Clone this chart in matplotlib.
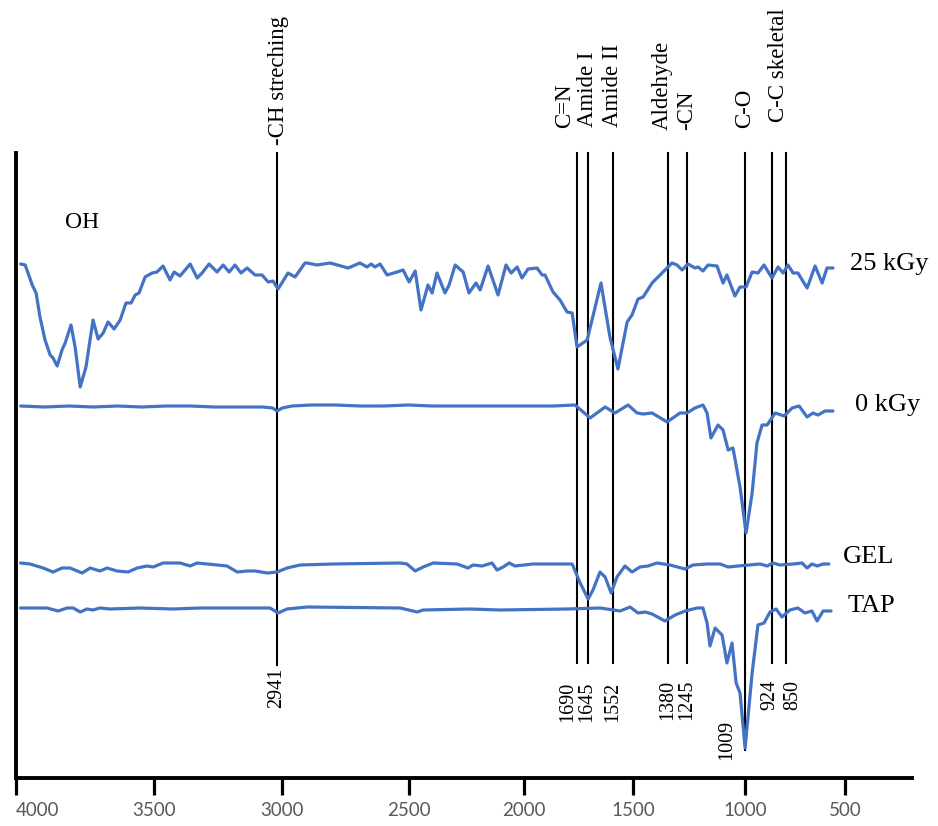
import matplotlib
matplotlib.use("Agg")
import matplotlib.pyplot as plt

# ---------------- data ----------------
wn_25 = [4000, 3981, 3952, 3936, 3920, 3899, 3878, 3866, 3849, 3829, 3816, 3792, 3775, 3754, 3730, 3701,
         3680, 3659, 3639, 3614, 3589, 3565, 3544, 3527, 3511, 3486, 3457, 3437, 3412, 3383, 3366, 3342,
         3300, 3271, 3251, 3222, 3189, 3164, 3139, 3115, 3090, 3065, 3032, 3003, 2978, 2958, 2937, 2896,
         2867, 2826, 2817, 2776, 2722, 2648, 2599, 2570, 2553, 2537, 2516, 2487, 2446, 2421, 2396, 2371,
         2347, 2318, 2301, 2281, 2248, 2231, 2206, 2173, 2149, 2120, 2103, 2070, 2029, 1996, 1975, 1950,
         1930, 1905, 1868, 1847, 1835, 1802, 1773, 1744, 1723, 1703, 1661, 1604, 1567, 1534, 1496, 1476,
         1451, 1430, 1393, 1360, 1311, 1290, 1269, 1245, 1216, 1203, 1183, 1162, 1125, 1100, 1084, 1051,
         1030, 1005, 980, 956, 931, 898, 873, 852, 832, 811, 791, 753, 720, 691, 671, 646]
t_25 = [514, 513, 493, 485, 461, 438, 423, 420, 412, 428, 435, 453, 431, 391, 411, 458,
        439, 445, 456, 449, 458, 475, 475, 483, 485, 501, 505, 506, 512, 498, 506, 502,
        514, 500, 505, 514, 506, 513, 506, 513, 505, 510, 503, 503, 496, 497, 489, 505,
        501, 515, 515, 513, 515, 510, 515, 511, 514, 511, 514, 503, 506, 508, 496, 507,
        468, 493, 485, 505, 485, 493, 513, 506, 485, 495, 488, 512, 483, 513, 505, 511,
        500, 509, 510, 503, 503, 486, 478, 466, 465, 431, 438, 495, 441, 409, 456, 463,
        479, 481, 495, 503, 515, 513, 508, 514, 510, 511, 507, 513, 512, 495, 503, 482,
        491, 491, 506, 505, 513, 500, 511, 505, 513, 505, 505, 490, 512, 495, 510, 510]

wn_0 = [4000, 3900, 3800, 3700, 3600, 3500, 3400, 3300, 3200, 3100, 3000, 2960, 2941, 2920, 2880, 2800,
        2700, 2600, 2500, 2400, 2300, 2200, 2100, 2000, 1900, 1800, 1711, 1649, 1587, 1546, 1492, 1455,
        1430, 1393, 1331, 1278, 1249, 1216, 1183, 1166, 1150, 1121, 1100, 1079, 1059, 1030, 1005, 980,
        960, 939, 918, 885, 848, 815, 786, 753, 729, 708, 679, 646]
t_0 = [372, 371, 372, 371, 372, 371, 372, 372, 371, 371, 371, 370, 367, 370, 372, 373,
       373, 372, 372, 373, 372, 372, 372, 372, 372, 372, 373, 360, 371, 365, 373, 365,
       364, 365, 356, 365, 365, 370, 373, 365, 340, 353, 348, 328, 330, 291, 245, 285,
       335, 353, 353, 365, 362, 370, 372, 361, 365, 363, 367, 367]

wn_gel = [4000, 3961, 3907, 3866, 3829, 3796, 3746, 3713, 3672, 3643, 3602, 3556, 3519, 3478, 3453, 3412,
          3342, 3300, 3271, 3230, 3148, 3106, 3065, 3032, 2982, 2941, 2900, 2846, 2710, 2433, 2405, 2371,
          2338, 2297, 2198, 2153, 2132, 2095, 2054, 2033, 2008, 1983, 1959, 1884, 1723, 1690, 1657, 1637,
          1608, 1587, 1562, 1538, 1505, 1476, 1443, 1410, 1373, 1319, 1257, 1224, 1166, 1112, 1079, 1038,
          947, 918, 894, 865, 811, 774, 753, 733, 712, 687, 663]
t_gel = [215, 214, 210, 206, 210, 210, 205, 210, 207, 210, 207, 206, 210, 212, 211, 215,
         215, 212, 215, 214, 212, 206, 207, 207, 205, 206, 210, 213, 214, 215, 214, 207,
         211, 215, 214, 210, 213, 212, 215, 208, 211, 215, 212, 214, 214, 195, 179, 188,
         206, 201, 185, 201, 212, 206, 211, 212, 215, 213, 209, 213, 214, 214, 211, 212,
         214, 212, 215, 213, 214, 215, 210, 214, 212, 214, 214]

wn_tap = [4000, 3948, 3891, 3845, 3808, 3783, 3754, 3726, 3701, 3672, 3631, 3507, 3371, 3259, 3123, 2970,
          2937, 2900, 2817, 2433, 2363, 2338, 2144, 2021, 1744, 1608, 1525, 1484, 1451, 1422, 1393, 1340,
          1298, 1257, 1207, 1183, 1166, 1154, 1133, 1104, 1084, 1063, 1046, 1030, 1009, 980, 956, 931,
          906, 881, 857, 824, 791, 762, 733, 712, 687, 654]
t_tap = [170, 170, 170, 167, 170, 170, 166, 169, 168, 170, 169, 170, 169, 170, 170, 170,
         165, 169, 171, 170, 166, 168, 169, 168, 169, 170, 167, 171, 165, 166, 164, 157,
         163, 167, 170, 170, 155, 132, 150, 143, 115, 135, 95, 85, 30, 105, 153, 155,
         166, 169, 161, 168, 170, 165, 167, 157, 167, 167]

series_names = ["25 kGy", "0 kGy", "GEL", "TAP"]

# band marker lines (axis position) and their labels
band_pos = [2941, 1703, 1657, 1554, 1327, 1249, 1009, 898, 840]
band_top_labels = ["-CH streching", "C=N", "Amide I", "Amide II", "Aldehyde", "-CN", "C-O", "C-C skeletal"]
band_num_labels = ["2941", "1690", "1645", "1552", "1380", "1245", "1009", "924", "850"]

tick_pos = [4018, 3449, 2921, 2397, 1922, 1472, 1010, 597]
tick_labels = ["4000", "3500", "3000", "2500", "2000", "1500", "1000", "500"]

# ---------------- figure ----------------
W, H = 938, 826
fig = plt.figure(figsize=(W / 100, H / 100), dpi=100)
ax = fig.add_axes([16 / W, 48 / H, 896 / W, 625 / H])

blue = "#4472C4"
serif = ["Liberation Serif", "DejaVu Serif"]

for wn, t in [(wn_25, t_25), (wn_0, t_0), (wn_gel, t_gel), (wn_tap, t_tap)]:
    ax.plot(wn, t, color=blue, lw=2.3, solid_joinstyle="round", solid_capstyle="round", zorder=3)

# vertical band lines
line_bottoms = [113, 115, 115, 115, 115, 115, 28, 115, 115]
for xp, yb in zip(band_pos, line_bottoms):
    ax.plot([xp, xp], [yb, 625], color="black", lw=1.5, zorder=2, clip_on=False)

# top labels
top_x = [2937, 1756, 1661, 1558, 1352, 1249, 1013, 873]
top_y = [633, 650, 651, 651, 648, 648, 650, 656]
for s, xp, yp in zip(band_top_labels, top_x, top_y):
    ax.text(xp, yp, s, rotation=90, ha="center", va="bottom", fontsize=16.5,
            family=serif, clip_on=False)

# bottom numeric labels
num_x = [2941, 1740, 1661, 1554, 1327, 1249, 1084, 906, 811]
num_y = [110, 96, 96, 96, 98, 98, 58, 98, 98]
for s, xp, yp in zip(band_num_labels, num_x, num_y):
    ax.text(xp, yp, s, rotation=90, ha="center", va="top", fontsize=14.5,
            family=serif, clip_on=False)

# series labels
lab_x = [576, 555, 605, 584]
lab_y = [514, 373, 221, 172]
for s, xp, yp in zip(series_names, lab_x, lab_y):
    ax.text(xp, yp, s, ha="left", va="center", fontsize=19, family=serif)

ax.text(3816, 555, "OH", ha="left", va="center", fontsize=17, family=serif)

ax.set_xlim(4019, 320)
ax.set_ylim(0, 625)

for sp in ["top", "right"]:
    ax.spines[sp].set_visible(False)
ax.spines["left"].set_linewidth(2.8)
ax.spines["bottom"].set_linewidth(2.8)
ax.set_yticks([])
ax.set_xticks(tick_pos)
ax.set_xticklabels(tick_labels, family=["Lato", "DejaVu Sans"], fontsize=13.5, color="#595959")
ax.tick_params(axis="x", length=12, width=2.3, direction="out", pad=5, color="black")
ax.get_xticklabels()[0].set_horizontalalignment("left")

fig.savefig("out.png", dpi=100)
